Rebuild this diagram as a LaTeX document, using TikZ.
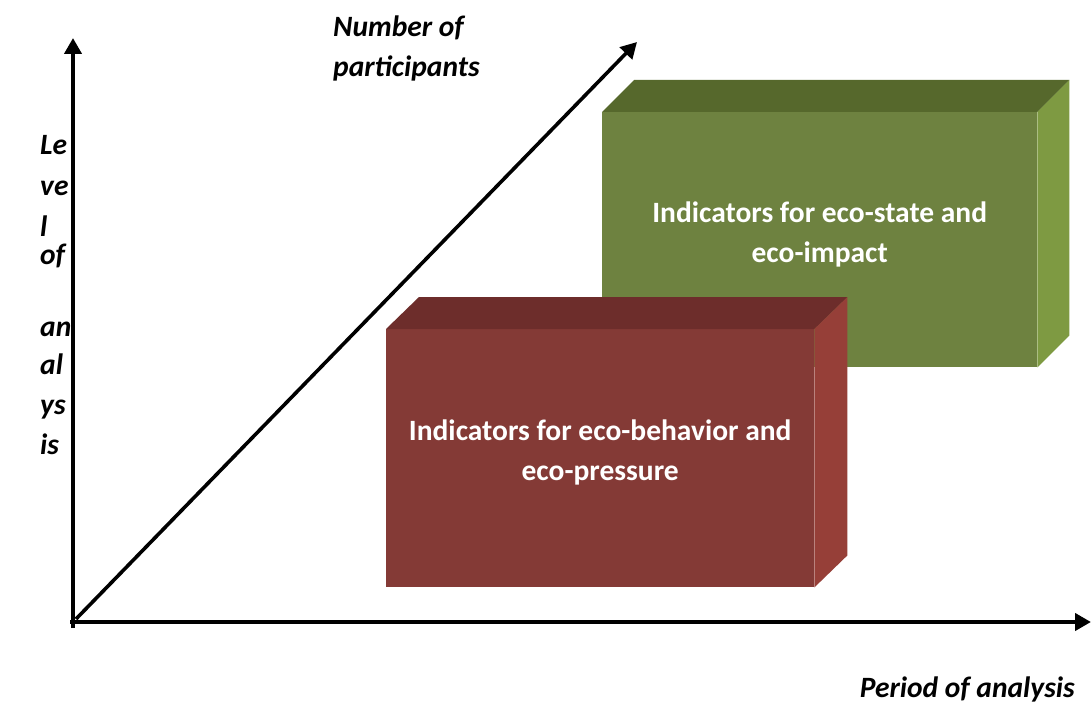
\documentclass[tikz,border=0pt]{standalone}
\usepackage{fontspec}
\setmainfont{Carlito}
\usetikzlibrary{arrows.meta}
\definecolor{gfront}{RGB}{110,130,64}
\definecolor{gtop}{RGB}{86,104,44}
\definecolor{gside}{RGB}{126,154,66}
\definecolor{rfront}{RGB}{132,58,54}
\definecolor{rtop}{RGB}{109,45,43}
\definecolor{rside}{RGB}{150,63,56}
\begin{document}
\begin{tikzpicture}[x=1pt,y=-1pt,
  axis/.style={line width=4pt,-{Triangle[length=16pt,width=17pt]}},
  front/.style={inner sep=0pt,anchor=north west},
  boxtext/.style={inner sep=0pt,text=white,align=center,
    font=\fontsize{29.5}{40}\selectfont\bfseries},
  lab/.style={inner sep=0pt,anchor=base west,font=\fontsize{29.5}{40}\selectfont\bfseries\itshape}]
\useasboundingbox[fill=white] (0,0) rectangle (1091,706);

% axes
\coordinate (O) at (73,628);
\coordinate (Ytip) at (73,38);
\coordinate (Xs) at (70,622);
\coordinate (Xtip) at (1091,622);
\coordinate (Ds) at (76,619);
\coordinate (Dtip) at (637,42);
\draw[axis] (O) -- (Ytip);
\draw[axis] (Xs) -- (Xtip);
\draw[axis,line width=3.6pt] (Ds) -- (Dtip);

% green box
\node[front,fill=gfront,minimum width=435pt,minimum height=255pt] (gbox) at (602,112) {};
\fill[gtop] (gbox.north west) -- ++(32,-32) -- ([shift={(32,-32)}]gbox.north east) -- (gbox.north east) -- cycle;
\fill[gside] (gbox.north east) -- ++(32,-32) -- ([shift={(32,-32)}]gbox.south east) -- (gbox.south east) -- cycle;
\node[boxtext] (gtext) at ([yshift=5pt]gbox.center) {Indicators for eco-state and\\eco-impact};

% red box
\node[front,fill=rfront,minimum width=428pt,minimum height=258pt] (rbox) at (386,329) {};
\fill[rtop] (rbox.north west) -- ++(33,-32) -- ([shift={(33,-32)}]rbox.north east) -- (rbox.north east) -- cycle;
\fill[rside] (rbox.north east) -- ++(33,-32) -- ([shift={(33,-32)}]rbox.south east) -- (rbox.south east) -- cycle;
\node[boxtext] (rtext) at ([yshift=6pt]rbox.center) {Indicators for eco-behavior and\\eco-pressure};

% labels
\node[lab] (np1) at (333,37) {Number of};
\node[lab] (np2) at (333,77) {participants};
\node[lab,anchor=base east] (pa) at (1075,697) {Period of analysis};
\node[lab] (v1) at (40,154) {Le};
\node[lab] (v2) at (40,195) {ve};
\node[lab] (v3) at (40,236) {l};
\node[lab] (v4) at (40,264) {of};
\node[lab] (v5) at (40,336) {an};
\node[lab] (v6) at (40,374) {al};
\node[lab] (v7) at (40,414) {ys};
\node[lab] (v8) at (40,454) {is};
\end{tikzpicture}
\end{document}
